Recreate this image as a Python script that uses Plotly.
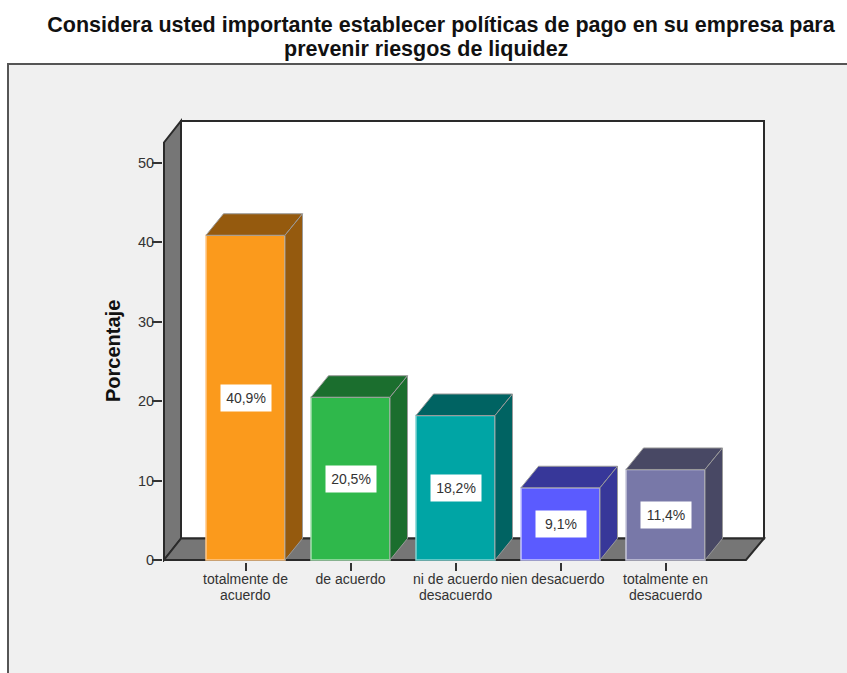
import plotly.graph_objects as go

# Survey responses, percentage per answer (category names wrap onto a second line)
category_first_lines = ["totalmente de", "de acuerdo", "ni de acuerdo",
                        "nien desacuerdo\u00a0\u00a0\u00a0\u00a0", "totalmente en"]
category_second_lines = ["acuerdo", "", "desacuerdo", "", "desacuerdo"]
values = [40.9, 20.5, 18.2, 9.1, 11.4]
value_labels = ["40,9%", "20,5%", "18,2%", "9,1%", "11,4%"]
y_ticks = [0, 10, 20, 30, 40, 50]

front_colors = ["#FB9A1C", "#2FB84B", "#00A5A5", "#5B5BFF", "#7878A8"]
shade_colors = ["#955A0E", "#1B6E2E", "#006362", "#373799", "#484864"]
edge_colors = ["#FFC98A", "#A5E0B0", "#80D4D2", "#C5C5FF", "#C8C8DC"]

W, H = 847, 673
PLOT_L, PLOT_R, PLOT_T, PLOT_B = 163, 767, 118, 562
CAT_PX, UNIT_PX = 105.0, 7.94
FIRST_CAT_PX, ZERO_PX = 245.5, 560.0
BAR_W = 79 / CAT_PX
DX, DY = 17.5 / CAT_PX, 21.5 / UNIT_PX
FONT = "Liberation Sans"


def data_x(px):
    return (px - FIRST_CAT_PX) / CAT_PX


def data_y(px):
    return (ZERO_PX - px) / UNIT_PX


def paper_x(px):
    return (px - PLOT_L) / (PLOT_R - PLOT_L)


def paper_y(px):
    return (PLOT_B - px) / (PLOT_B - PLOT_T)


def poly(points):
    return "M " + " L ".join(f"{x:.4f},{y:.4f}" for x, y in points) + " Z"


fig = go.Figure()

# Front faces of the bars
fig.add_trace(go.Bar(
    x=list(range(len(values))), y=values, width=BAR_W,
    marker=dict(color=front_colors, line=dict(color=edge_colors, width=1.5)),
    showlegend=False, hoverinfo="skip",
))

# Extruded top and side of each bar
for i, v in enumerate(values):
    left, right = i - BAR_W / 2, i + BAR_W / 2
    fig.add_trace(go.Scatter(
        x=[left, right, right + DX, left + DX, left],
        y=[v, v, v + DY, v + DY, v],
        mode="lines", fill="toself", fillcolor=shade_colors[i],
        line=dict(color="#9A9A9A", width=1), showlegend=False, hoverinfo="skip",
    ))
    fig.add_trace(go.Scatter(
        x=[right, right + DX, right + DX, right, right],
        y=[0, DY, v + DY, v, 0],
        mode="lines", fill="toself", fillcolor=shade_colors[i],
        line=dict(color="#9A9A9A", width=1), showlegend=False, hoverinfo="skip",
    ))

# Panel, back wall, side wall and floor sit under the bars
back_l, back_r = data_x(181), data_x(764)
front_l, front_r = data_x(164), data_x(746)
wall_top, back_floor = data_y(121), data_y(538.5)
wall_front_top = data_y(142.5)
frame = dict(color="#2A2A2A", width=2)

shapes = [
    dict(type="rect", xref="paper", yref="paper", layer="below",
         x0=paper_x(8), x1=paper_x(W + 10), y0=paper_y(H + 10), y1=paper_y(64),
         fillcolor="#F0F0F0", line=dict(color="#555555", width=2)),
    dict(type="rect", xref="x", yref="y", layer="below",
         x0=back_l, x1=back_r, y0=back_floor, y1=wall_top,
         fillcolor="#FFFFFF", line=frame),
    dict(type="path", xref="x", yref="y", layer="below",
         path=poly([(front_l, 0), (back_l, back_floor), (back_l, wall_top), (front_l, wall_front_top)]),
         fillcolor="#767676", line=frame),
    dict(type="path", xref="x", yref="y", layer="below",
         path=poly([(front_l, 0), (front_r, 0), (back_r, back_floor), (back_l, back_floor)]),
         fillcolor="#767676", line=frame),
]

# Value labels on white boxes, halfway up each bar
annotations = [
    dict(x=i, y=v / 2, xref="x", yref="y", text=label, showarrow=False,
         font=dict(family=FONT, size=14, color="#333333"),
         bgcolor="#FFFFFF", width=48, height=24, align="center")
    for i, (v, label) in enumerate(zip(values, value_labels))
]
# Tight second lines of the category names
annotations += [
    dict(x=i, y=paper_y(595), xref="x", yref="paper", yanchor="middle", text=line,
         showarrow=False, font=dict(family=FONT, size=14, color="#333333"))
    for i, line in enumerate(category_second_lines) if line
]
annotations += [
    dict(x=paper_x(426), y=paper_y(49), xref="paper", yref="paper", yanchor="middle",
         text="prevenir riesgos de liquidez", showarrow=False,
         font=dict(family=FONT, size=21.5, color="#111111", weight="bold")),
    dict(x=paper_x(112.5), y=paper_y(351.5), xref="paper", yref="paper",
         xanchor="center", yanchor="middle", textangle=-90,
         text="Porcentaje", showarrow=False,
         font=dict(family=FONT, size=20, color="#111111", weight="bold")),
]

fig.update_layout(
    width=W, height=H,
    margin=dict(l=PLOT_L, r=W - PLOT_R, t=PLOT_T, b=H - PLOT_B, autoexpand=False),
    paper_bgcolor="#FFFFFF", plot_bgcolor="rgba(0,0,0,0)",
    showlegend=False, shapes=shapes, annotations=annotations,
    title=dict(
        text="Considera usted importante establecer políticas de pago en su empresa para",
        x=441 / W, xanchor="center", y=1 - 24 / H, yanchor="middle",
        font=dict(family=FONT, size=21.5, color="#111111", weight="bold"),
    ),
    xaxis=dict(
        range=[data_x(PLOT_L), data_x(PLOT_R)],
        tickmode="array", tickvals=list(range(len(category_first_lines))),
        ticktext=category_first_lines,
        ticks="outside", ticklen=8, tickwidth=1.5, tickcolor="#333333",
        ticklabelstandoff=-4,
        tickangle=0, showgrid=False, zeroline=False, showline=False,
        tickfont=dict(family=FONT, size=14, color="#333333"),
    ),
    yaxis=dict(
        range=[data_y(PLOT_B), data_y(PLOT_T)],
        tickmode="array", tickvals=y_ticks,
        ticks="outside", ticklen=10, tickwidth=1.5, tickcolor="#333333",
        ticklabelstandoff=-5,
        showgrid=False, zeroline=False, showline=False,
        tickfont=dict(family=FONT, size=14.5, color="#333333"),
    ),
)

fig.write_html("out.html")
